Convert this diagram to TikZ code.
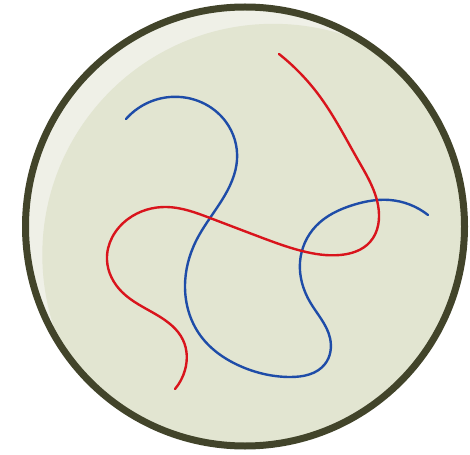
\documentclass[tikz,border=0pt]{standalone}
\usetikzlibrary{hobby}
\definecolor{rimcol}{HTML}{42442A}
\definecolor{fillcol}{HTML}{E2E5D1}
\definecolor{lightcol}{HTML}{EFF0E7}
\definecolor{bluecol}{HTML}{1E4CA8}
\definecolor{redcol}{HTML}{D9141C}
\tikzset{
  strand/.style={line width=2.4pt, line cap=round, line join=round, use Hobby shortcut},
}
\begin{document}
\begin{tikzpicture}[x=1pt,y=-1pt]
\useasboundingbox (0,0) rectangle (470,454);
\coordinate (c) at (245,226.5);
\begin{scope}
  \clip (c) circle[radius=219];
  \fill[lightcol] (c) circle[radius=219];
  \fill[fillcol] (273.3,254.8) circle[radius=231];
\end{scope}
\draw[rimcol, line width=7pt] (c) circle[radius=219.5];
\draw[strand, bluecol] (126,119) .. (170,97) .. (226,122) .. (237,160) .. (222,200)
 .. (196,241) .. (185,287) .. (200,335) .. (240,366) .. (290,377) .. (325,364)
 .. (330,338) .. (310,302) .. (300,262) .. (316,226) .. (353,205) .. (390,200) .. (428,215);
\draw[strand, redcol] (279,54) .. (318,94) .. (358,160) .. (378,205) .. (370,242)
 .. (340,255) .. (302,251) .. (260,237) .. (210,218) .. (167,207) .. (128,219)
 .. (107,260) .. (122,292) .. (157,315) .. (183,340) .. (185,370) .. (175,389);
\end{tikzpicture}
\end{document}
